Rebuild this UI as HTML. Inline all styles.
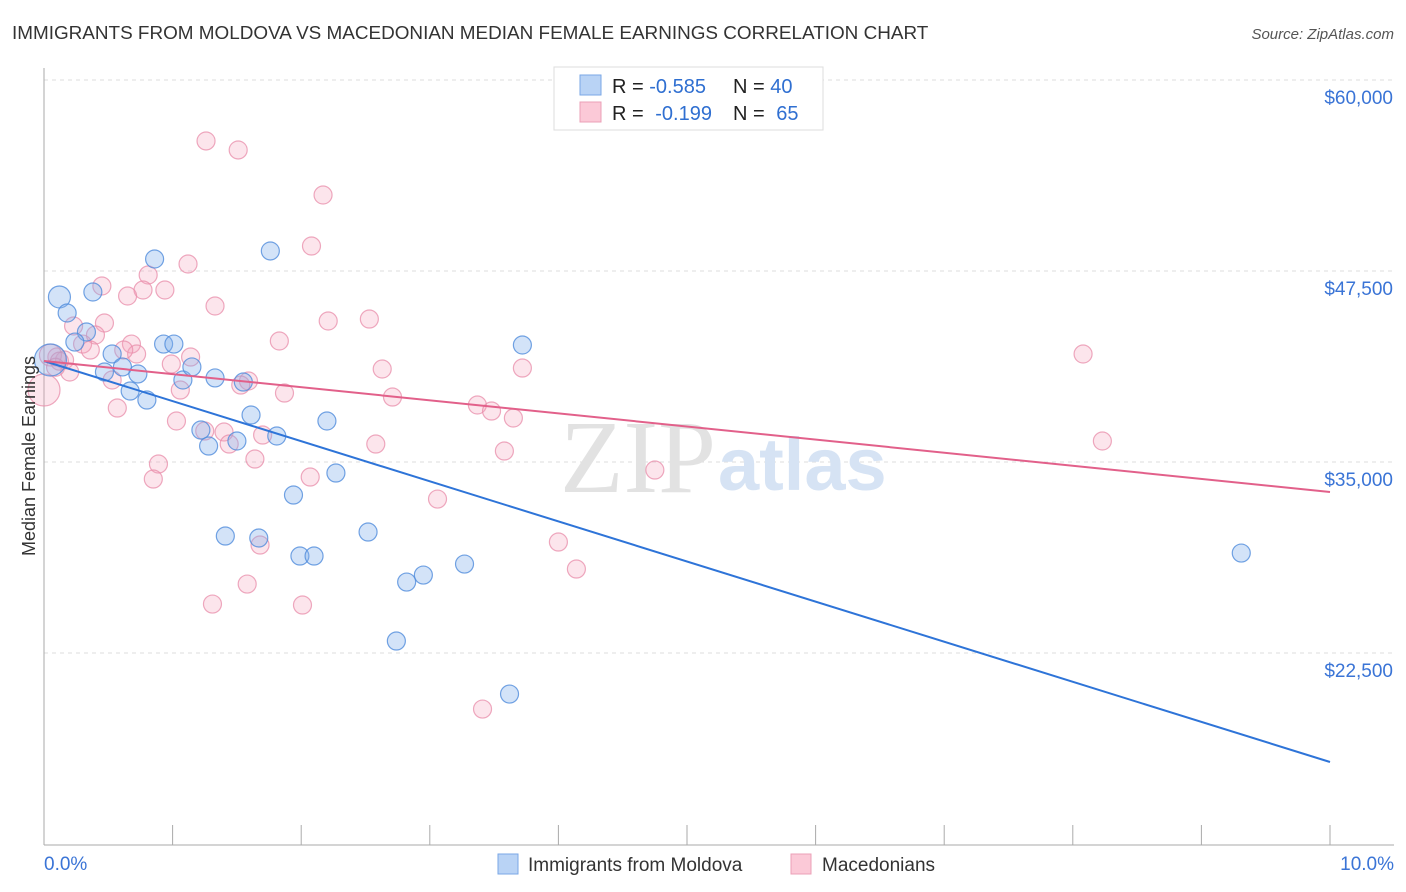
<!DOCTYPE html>
<html><head><meta charset="utf-8"><style>
body{margin:0;background:#fff;font-family:"Liberation Sans",sans-serif;}
svg{display:block}
</style></head><body>
<svg id="chart" width="1406" height="892" viewBox="0 0 1406 892" xmlns="http://www.w3.org/2000/svg">
<text x="12" y="39" font-size="18.9" fill="#333">IMMIGRANTS FROM MOLDOVA VS MACEDONIAN MEDIAN FEMALE EARNINGS CORRELATION CHART</text>
<text x="1394" y="39" font-size="15" fill="#555" font-style="italic" text-anchor="end">Source: ZipAtlas.com</text>
<g id="grid"></g>
<g id="axes"></g>
<text x="716" y="492" font-size="104" fill="#e2e2e2" text-anchor="end" font-family="Liberation Serif,serif">ZIP</text>
<text x="718" y="490" font-size="74" fill="#d6e3f4" font-weight="bold">atlas</text>
<g id="marks"></g>
<text transform="translate(35,456) rotate(-90)" font-size="18" fill="#333" text-anchor="middle">Median Female Earnings</text>
<g>
<rect x="554" y="67" width="269" height="63" fill="#fff" stroke="#ddd"/>
<rect x="580" y="75" width="21" height="20" fill="#b9d3f5" stroke="#7aa7e6"/>
<rect x="580" y="102" width="21" height="20" fill="#fbc9d7" stroke="#eba0b7"/>
<text x="612" y="93" font-size="20" fill="#222">R = <tspan fill="#2f6fd1">-0.585</tspan></text>
<text x="733" y="93" font-size="20" fill="#222">N = <tspan fill="#2f6fd1">40</tspan></text>
<text x="612" y="120" font-size="20" fill="#222">R = <tspan fill="#2f6fd1" dx="6">-0.199</tspan></text>
<text x="733" y="120" font-size="20" fill="#222">N = <tspan fill="#2f6fd1" dx="6">65</tspan></text>
</g>
<g>
<rect x="498" y="854" width="20" height="20" fill="#b9d3f5" stroke="#7aa7e6"/>
<text x="528" y="871" font-size="19" fill="#333">Immigrants from Moldova</text>
<rect x="791" y="854" width="20" height="20" fill="#fbc9d7" stroke="#eba0b7"/>
<text x="822" y="871" font-size="19" fill="#333">Macedonians</text>
</g>
</svg>
<script>
const yTicks=[60000,47500,35000,22500];
const yTickLabels=["$60,000","$47,500","$35,000","$22,500"];
const xTickLabels=["0.0%","10.0%"];
const blueX=[0.12,0.18,0.38,0.86,1.76,0.33,0.24,0.53,0.61,0.47,0.73,0.67,0.80,0.93,1.01,1.08,1.15,1.33,1.55,1.61,1.22,1.28,1.50,1.81,2.20,2.27,1.94,1.41,1.67,1.99,2.10,2.52,2.82,2.95,3.27,2.74,3.62,3.72,9.31,0.05];
const blueY=[45800,44750,46125,48285,48810,43507,42850,42070,41220,40890,40760,39645,39056,42720,42720,40365,41220,40500,40234,38074,37092,36045,36373,36700,37682,34278,32838,30155,30024,28846,28846,30417,27144,27602,28322,23283,19814,42656,29042,41674];
const pinkX=[1.26,1.51,2.17,2.08,1.12,0.81,0.45,0.77,0.94,0.65,1.33,0.23,0.47,0.40,0.30,0.36,0.68,0.72,0.62,0.10,0.16,0.20,1.14,0.99,1.83,2.21,2.53,2.63,3.72,8.08,1.59,1.53,1.06,1.87,2.71,3.37,3.48,3.65,0.57,1.03,1.25,1.40,1.70,2.58,3.58,8.23,1.64,0.89,0.85,2.07,3.06,4.75,1.68,4.00,4.14,1.58,1.31,2.01,3.41,0.0,0.05,0.53,1.44,0.12,0.09];
const pinkY=[56008,55419,52473,49135,47957,47237,46517,46256,46256,45863,45208,43899,44096,43310,42720,42328,42720,42067,42328,41870,41674,40890,41870,41412,42918,44227,44357,41085,41150,42067,40300,40037,39710,39514,39252,38729,38336,37878,38532,37682,37027,36962,36765,36176,35718,36373,35194,34867,33885,34016,32576,34474,29566,29762,27995,27013,25704,25639,18832,39710,42000,40365,36176,41600,41200];
const blueBig=[39,0];
const pinkBig=[59,60];
const blueTrend=[41610,15366];
const pinkTrend=[41610,33037];
const NS="http://www.w3.org/2000/svg";
const X0=44,X1=1330;
function sx(v){return X0+(v/10)*(X1-X0);}
function sy(v){return 80+(60000-v)*191/12500;}
function mk(tag,attrs,parent){const e=document.createElementNS(NS,tag);for(const k in attrs)e.setAttribute(k,attrs[k]);parent.appendChild(e);return e;}
const grid=document.getElementById('grid'),axes=document.getElementById('axes'),marks=document.getElementById('marks');
yTicks.forEach((t,i)=>{
  const l=mk('line',{x1:X0,x2:1394,y1:sy(t),y2:sy(t),stroke:'#ddd','stroke-dasharray':'4,4'},grid);
  
  
  const tx=mk('text',{x:1393,y:sy(t)+24,'font-size':19,fill:'#3a74d6','text-anchor':'end'},axes);
  tx.textContent=yTickLabels[i];
  
  
});
const ya=mk('line',{x1:X0,x2:X0,y1:68,y2:845,stroke:'#aaa'},axes);


const xa=mk('line',{x1:X0,x2:1394,y1:845,y2:845,stroke:'#aaa'},axes);


for(let i=0;i<=10;i++){
  const t=mk('line',{x1:sx(i),x2:sx(i),y1:825,y2:845,stroke:'#aaa'},axes);
  
  
}
[[0,'start',44],[10,'end',1394]].forEach((d,i)=>{
  const tx=mk('text',{x:d[2],y:870,'font-size':19,fill:'#3a74d6','text-anchor':d[1]},axes);
  tx.textContent=xTickLabels[i];
  
  
});
function pts(xs,ys,big,fill,stroke,name){
  xs.forEach((x,i)=>{
    const r=big.includes(i)?(i===big[0]?16:11):9;
    const c=mk('circle',{cx:sx(x),cy:sy(ys[i]),r:r,fill:fill,stroke:stroke,'stroke-width':1.2},marks);
    
    
  });
}
pts(pinkX,pinkY,pinkBig,'rgba(246,160,188,0.28)','rgba(232,140,170,0.75)','point-macedonians');
pts(blueX,blueY,blueBig,'rgba(130,175,235,0.35)','rgba(80,140,220,0.8)','point-moldova');
const bl=mk('line',{x1:sx(0),y1:sy(blueTrend[0]),x2:sx(10),y2:sy(blueTrend[1]),stroke:'#2e74d8','stroke-width':2},marks);


const pl=mk('line',{x1:sx(0),y1:sy(pinkTrend[0]),x2:sx(10),y2:sy(pinkTrend[1]),stroke:'#e2608a','stroke-width':2},marks);


</script>
</body></html>
